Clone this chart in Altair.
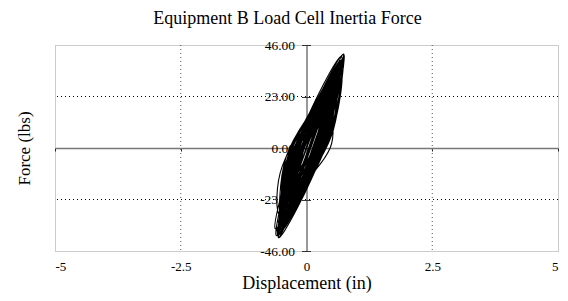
import altair as alt
import pandas as pd

# Hysteresis trace (displacement in, force lbs)
x_vals = [
    -0.147, 0.324, 0.294, -0.196,
    -0.307, 0.294, 0.354, -0.266,
    -0.312, 0.424, 0.581, -0.176,
    -0.451, 0.246, 0.442, -0.274,
    -0.251, 0.479, 0.669, -0.081,
    -0.549, 0.174, 0.317, -0.426,
    -0.374, 0.388, 0.671, -0.112,
    -0.551, 0.262, 0.494, -0.338,
    -0.418, 0.388, 0.735, -0.092,
    -0.558, 0.275, 0.568, -0.285,
    -0.316, 0.416, 0.728, -0.024,
    -0.501, 0.235, 0.351, -0.405,
    -0.466, 0.344, 0.633, -0.196,
    -0.214, 0.488, 0.611, -0.112,
    -0.543, 0.192, 0.446, -0.308,
    -0.299, 0.463, 0.704, -0.077,
    -0.115, 0.470, 0.435, -0.170,
    -0.417, 0.327, 0.572, -0.193,
    -0.512, 0.259, 0.450, -0.341,
    -0.497, 0.310, 0.657, -0.170,
    -0.422, 0.226, 0.334, -0.334,
    -0.405, 0.361, 0.626, -0.159,
    -0.100, 0.304, 0.287, -0.136,
    -0.421, 0.375, 0.692, -0.125,
    -0.604, 0.157, 0.399, -0.383,
    -0.330, 0.452, 0.673, -0.128,
    -0.496, 0.319, 0.535, -0.301,
    -0.493, 0.321, 0.674, -0.159,
    -0.401, 0.179, 0.259, -0.341,
    -0.245, 0.485, 0.676, -0.075,
    -0.574, 0.222, 0.497, -0.318,
    -0.395, 0.438, 0.691, -0.162,
    -0.434, 0.306, 0.405, -0.354,
    -0.462, 0.324, 0.609, -0.196,
    -0.336, 0.384, 0.544, -0.196,
    -0.623, 0.120, 0.284, -0.480,
    -0.521, 0.120, 0.222, -0.440,
    -0.174, 0.270, 0.294, -0.170,
    -0.147, 0.184, 0.294, -0.056,
    -0.307, 0.154, 0.354, -0.126,
    -0.312, 0.274, 0.581, -0.026,
    -0.451, 0.116, 0.442, -0.144,
    -0.251, 0.359, 0.669, 0.039,
    -0.549, 0.024, 0.317, -0.276,
    -0.374, 0.278, 0.671, -0.002,
    -0.551, 0.122, 0.494, -0.198,
    -0.418, 0.278, 0.735, 0.018,
    -0.558, 0.145, 0.568, -0.155,
    -0.316, 0.316, 0.728, 0.076,
    -0.501, 0.085, 0.351, -0.255,
    -0.466, 0.214, 0.633, -0.066,
    -0.214, 0.368, 0.611, 0.008,
    -0.543, 0.072, 0.446, -0.188,
    -0.299, 0.343, 0.704, 0.043,
    -0.115, 0.350, 0.435, -0.050,
    -0.417, 0.207, 0.572, -0.073,
    -0.512, 0.119, 0.450, -0.201,
    -0.497, 0.200, 0.657, -0.060,
    -0.422, 0.096, 0.334, -0.204,
    -0.405, 0.241, 0.626, -0.039,
    -0.476, 0.117, 0.651, 0.037,
    -0.444, 0.064, 0.491, -0.036,
    -0.371, 0.198, 0.728, 0.138,
    -0.597, -0.045, 0.406, -0.165,
    -0.272, 0.248, 0.689, 0.148,
    -0.523, 0.049, 0.562, -0.031,
    -0.418, 0.177, 0.653, 0.037,
    -0.562, -0.027, 0.427, -0.127,
    -0.337, 0.228, 0.734, 0.148,
    -0.369, 0.080, 0.429, -0.040,
    -0.100, 0.204, 0.287, -0.036,
]
y_vals = [
    -10, 1, 12, 1,
    -18, 1, 20, 1,
    -25, 2.5, 30, 2.5,
    -30, -2.5, 25, -2.5,
    -22, 6.5, 35, 6.5,
    -35, -8.5, 18, -8.5,
    -28, 5, 38, 5,
    -38, -5, 28, -5,
    -32, 5, 42, 5,
    -40, -4, 32, -4,
    -26, 7, 40, 7,
    -30, -4, 22, -4,
    -34, 1, 36, 1,
    -20, 5, 30, 5,
    -36, -5, 26, -5,
    -24, 7.5, 39, 7.5,
    -15, 0, 15, 0,
    -29, 2, 33, 2,
    -33, -3, 27, -3,
    -37, 0, 37, 0,
    -25, -2.5, 20, -2.5,
    -31, 1.5, 34, 1.5,
    -8, 1, 10, 1,
    -30, 5.5, 41, 5.5,
    -39, -7.5, 24, -7.5,
    -27, 4.5, 36, 4.5,
    -34, -1.5, 31, -1.5,
    -36, 1.5, 39, 1.5,
    -22, -3, 16, -3,
    -23, 5.5, 34, 5.5,
    -39, -5, 29, -5,
    -31, 3.5, 38, 3.5,
    -28, -2.5, 23, -2.5,
    -33, 1, 35, 1,
    -26, 1, 28, 1,
    -36, -8, 20, -8,
    -30, -8, 14, -8,
    -12, 0, 12, 0,
    -10, 1, 12, 1,
    -18, 1, 20, 1,
    -25, 2.5, 30, 2.5,
    -30, -2.5, 25, -2.5,
    -22, 6.5, 35, 6.5,
    -35, -8.5, 18, -8.5,
    -28, 5, 38, 5,
    -38, -5, 28, -5,
    -32, 5, 42, 5,
    -40, -4, 32, -4,
    -26, 7, 40, 7,
    -30, -4, 22, -4,
    -34, 1, 36, 1,
    -20, 5, 30, 5,
    -36, -5, 26, -5,
    -24, 7.5, 39, 7.5,
    -15, 0, 15, 0,
    -29, 2, 33, 2,
    -33, -3, 27, -3,
    -37, 0, 37, 0,
    -25, -2.5, 20, -2.5,
    -31, 1.5, 34, 1.5,
    -34, 2, 38, 2,
    -28, 1, 30, 1,
    -30, 5, 40, 5,
    -37, -5.5, 26, -5.5,
    -25, 5, 35, 5,
    -36, -1.5, 33, -1.5,
    -32, 2, 36, 2,
    -33, -2, 29, -2,
    -29, 5, 39, 5,
    -24, 0, 24, 0,
    -8, 1, 10, 1,
]

x_ticks = [-5, -2.5, 0, 2.5, 5]
y_ticks = [-46, -23, 0, 23, 46]
x_grid = [-2.5, 2.5]
y_grid = [-23, 23]

df = pd.DataFrame({"i": list(range(len(x_vals))), "x": x_vals, "y": y_vals})
df_xg = pd.DataFrame({"v": x_grid})
df_yg = pd.DataFrame({"v": y_grid})

FONT = "Liberation Serif"
W, H = 503, 206
xs = alt.Scale(domain=[-5, 5], nice=False, zero=False)
ys = alt.Scale(domain=[-46, 46], nice=False, zero=False)
x_label = "replace(format(datum.value, '~g'), '\u2212', '-')"
y_label = "replace(format(datum.value, '.2f'), '\u2212', '-')"

hgrid = alt.Chart(df_yg).mark_rule(color="black", strokeDash=[1, 3], strokeWidth=1).encode(
    y=alt.Y("v:Q", scale=ys, axis=alt.Axis(
        orient="right", offset=-W / 2, values=y_ticks, labels=False, domain=False,
        ticks=True, tickSize=4, tickColor="#333", grid=False, title=None))
)

vgrid = alt.Chart(df_xg).mark_rule(color="#555", strokeDash=[1, 3], strokeWidth=1).encode(
    x=alt.X("v:Q", scale=xs, axis=alt.Axis(
        orient="bottom", values=x_ticks, domain=False, ticks=False, tickSize=0,
        labelPadding=9, labelFontSize=13, labelColor="black", labelExpr=x_label,
        grid=False, title="Displacement (in)", titleFontSize=18, titleFontWeight="normal",
        titleColor="black", titleY=37, titleBaseline="alphabetic"))
)

line = alt.Chart(df).mark_line(color="black", strokeWidth=1.1, interpolate="cardinal").encode(
    x=alt.X("x:Q", scale=xs, axis=alt.Axis(
        orient="bottom", offset=-H / 2, values=x_ticks, labels=False, domain=True,
        domainColor="#777", domainWidth=1.6, ticks=True, tickSize=3, tickColor="#222",
        grid=False, title=None)),
    y=alt.Y("y:Q", scale=ys, axis=alt.Axis(
        orient="left", offset=-W / 2, values=y_ticks, labelExpr=y_label,
        labelFontSize=13.5, labelColor="black", labelPadding=7, domain=True,
        domainColor="#333", domainWidth=1, ticks=True, tickSize=5, tickColor="#333",
        grid=False, title="Force (lbs)", titleFontSize=17, titleFontWeight="normal",
        titleColor="black", titleX=-W / 2 - 31, titleY=H / 2, titleAngle=-90,
        titleAlign="center", titleBaseline="middle")),
    order="i:Q",
)

chart = alt.layer(hgrid, vgrid, line).resolve_axis(x="independent", y="independent").properties(
    width=W, height=H,
    title=alt.TitleParams("Equipment B Load Cell Inertia Force", font=FONT, fontSize=18,
                          fontWeight="normal", color="black", anchor="middle", frame="group",
                          dx=-19, dy=16, baseline="alphabetic", offset=12),
    padding={"left": 47, "top": 37, "right": 2, "bottom": 48},
    autosize=alt.AutoSizeParams(type="none"),
).configure_view(stroke="#999", strokeDash=[1, 1], strokeWidth=1).configure_axis(
    labelFont=FONT, titleFont=FONT
)

chart.save("out.html", embed_options={"renderer": "svg", "actions": False})
